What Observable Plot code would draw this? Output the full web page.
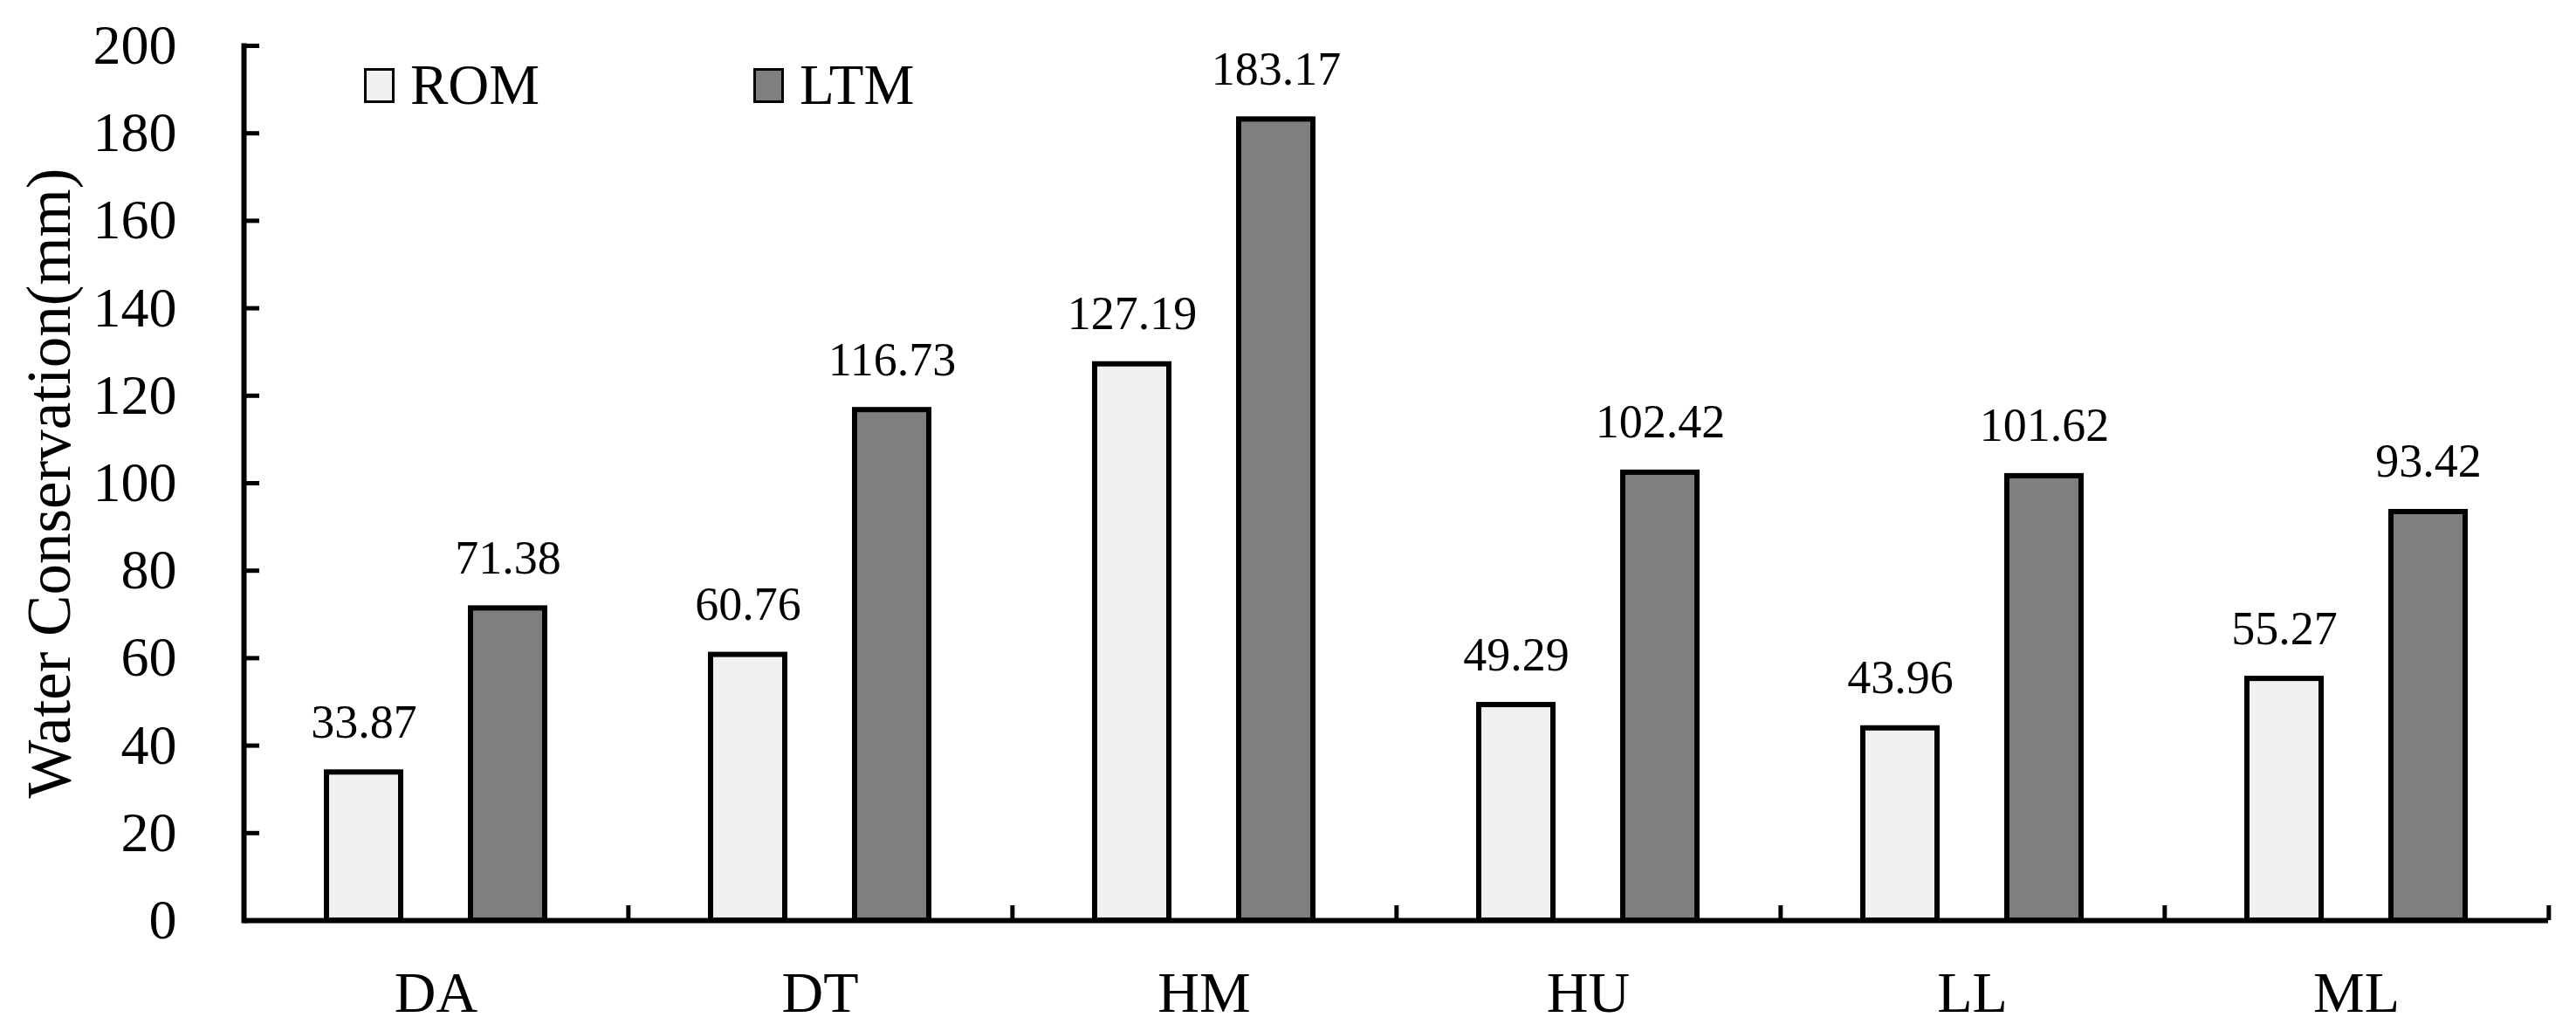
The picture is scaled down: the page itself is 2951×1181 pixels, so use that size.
<!DOCTYPE html>
<html>
<head>
<meta charset="utf-8">
<script src="https://cdn.jsdelivr.net/npm/d3@7"></script>
<script src="https://cdn.jsdelivr.net/npm/@observablehq/plot@0.6"></script>
<style>
  html, body { margin: 0; padding: 0; background: #fff; }
  #wrap { position: relative; width: 2951px; height: 1181px; font-family: "Liberation Serif", "Times New Roman", serif; }
  #chart { position: absolute; left: 0; top: 0; }
  #chart g[aria-label="y-axis label"] { font-size: 71px; }
  #legend { position: absolute; left: 417px; top: 65px; display: flex; }
  .item { display: flex; align-items: center; width: 446px; }
  .sw { width: 29px; height: 34px; border: 3px solid #000; }
  .lab { font-size: 65px; line-height: 1; margin-left: 18px; color: #000; }
</style>
</head>
<body>
<div id="wrap"><div id="chart"></div><div id="legend"></div></div>
<script>
// ---- data ----
const sites = ["DA", "DT", "HM", "HU", "LL", "ML"];
const series = ["ROM", "LTM"];
const romValues = [33.87, 60.76, 127.19, 49.29, 43.96, 55.27];
const ltmValues = [71.38, 116.73, 183.17, 102.42, 101.62, 93.42];
const yTicks = [0, 20, 40, 60, 80, 100, 120, 140, 160, 180, 200];
const seriesColors = ["#f0f0f0", "#7f7f7f"];
const yTitle = "Water Conservation(mm)";

const rows = sites.flatMap((s, i) => [
  {site: s, series: "ROM", value: romValues[i]},
  {site: s, series: "LTM", value: ltmValues[i]}
]);

// ---- layout ----
const W = 2951, H = 1181, mL = 277, mR = 30, mT = 52, mB = 127;
const step = (W - mL - mR) / sites.length;
const font = "Liberation Serif, Times New Roman, serif";

const chart = Plot.plot({
  width: W, height: H,
  marginLeft: mL, marginRight: mR, marginTop: mT, marginBottom: mB,
  style: {fontFamily: font, color: "#000", background: "#fff", overflow: "visible"},
  fx: {domain: sites, padding: 0, label: null},
  x: {domain: series, paddingInner: 0.486, paddingOuter: 0.57, axis: null},
  y: {domain: [0, 200]},
  color: {domain: series, range: seriesColors},
  marks: [
    Plot.barY(rows, {fx: "site", x: "series", y: "value", fill: "series", stroke: "#000", strokeWidth: 6}),
    Plot.text(rows, {fx: "site", x: "series", y: "value", text: d => d.value.toFixed(2),
      lineAnchor: "bottom", dy: -40, fontSize: 54, fill: "#000"}),
    Plot.ruleY([0], {strokeWidth: 6}),
    Plot.frame({anchor: "left", facetAnchor: "left", strokeWidth: 6}),
    Plot.axisY({ticks: yTicks, tickSize: 18, dx: 18, fill: "none", strokeWidth: 5, label: null}),
    Plot.axisY({ticks: yTicks, tickSize: 0, tickPadding: 77, fontSize: 64, label: yTitle,
      labelAnchor: "center", labelOffset: 250, labelArrow: "none"}),
    Plot.axisFx({anchor: "bottom", tickSize: 0, tickPadding: 58, fontSize: 66, label: null}),
    Plot.axisFx({anchor: "bottom", tickSize: 17, dy: -17, dx: step / 2, fill: "none", strokeWidth: 5, label: null})
  ]
});
document.getElementById("chart").appendChild(chart);

// ---- legend ----
const legend = d3.select("#legend");
series.forEach((s, i) => {
  const item = legend.append("div").attr("class", "item");
  item.append("div").attr("class", "sw").style("background", seriesColors[i]);
  item.append("div").attr("class", "lab").text(s);
});
</script>
</body>
</html>
